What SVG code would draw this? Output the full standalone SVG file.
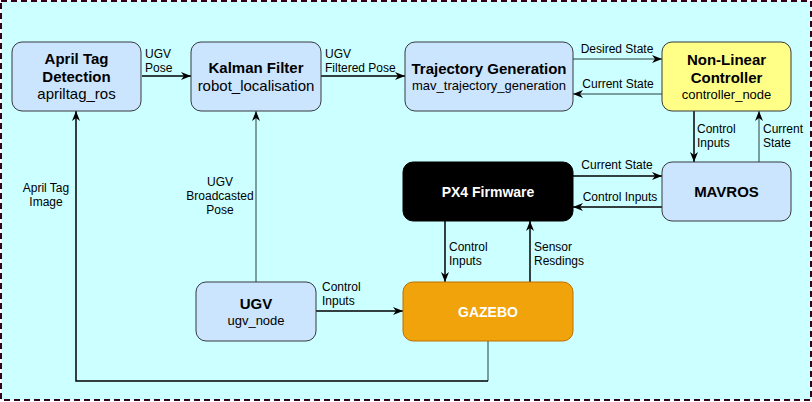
<svg xmlns="http://www.w3.org/2000/svg" width="812" height="402" viewBox="0 0 812 402">
<defs>
<style>
.nb{fill:#CCE5FF;stroke:#36393D;stroke-width:1}
.t{font-family:"Liberation Sans",Arial,sans-serif;text-anchor:middle;fill:#000}
.b{font-weight:bold;font-size:15px}
.s{font-size:15px}
.s13{font-size:13px}
.l{font-family:"Liberation Sans",Arial,sans-serif;font-size:12px;fill:#000}
.c{text-anchor:middle}
.k{fill:none;stroke:#000;stroke-width:1.5}
.g{fill:none;stroke:#5F7F7F;stroke-width:1.5}
</style>
<marker id="ak" viewBox="0 0 10 10" refX="10" refY="5" markerWidth="10" markerHeight="10" markerUnits="userSpaceOnUse" orient="auto">
<path d="M0,1 L10,5 L0,9 L3,5 z" fill="#000"/>
</marker>
<marker id="ag" viewBox="0 0 10 10" refX="10" refY="5" markerWidth="10" markerHeight="10" markerUnits="userSpaceOnUse" orient="auto">
<path d="M0,1 L10,5 L0,9 L3,5 z" fill="#000"/>
</marker>
</defs>
<rect id="background" x="1" y="1" width="810" height="399" fill="#CCFFFF" stroke="#33001A" stroke-width="2" stroke-dasharray="6 4"/>

<g id="connectors">
<line class="k" x1="142" y1="76" x2="191" y2="76" marker-end="url(#ak)"/>
<line class="k" x1="321" y1="76" x2="405" y2="76" marker-end="url(#ak)"/>
<line class="g" x1="573" y1="59" x2="662" y2="59" marker-end="url(#ag)"/>
<line class="g" x1="662" y1="94" x2="573" y2="94" marker-end="url(#ag)"/>
<line class="k" x1="694" y1="111" x2="694" y2="162" marker-end="url(#ak)"/>
<line class="g" x1="759" y1="162" x2="759" y2="111" marker-end="url(#ag)"/>
<line class="k" x1="573" y1="176" x2="662" y2="176" marker-end="url(#ak)"/>
<line class="k" x1="662" y1="207" x2="573" y2="207" marker-end="url(#ak)"/>
<line class="k" x1="445" y1="221" x2="445" y2="282" marker-end="url(#ak)"/>
<line class="k" x1="530" y1="282" x2="530" y2="221" marker-end="url(#ak)"/>
<line class="k" x1="316" y1="311" x2="403" y2="311" marker-end="url(#ak)"/>
<line class="g" x1="256" y1="282" x2="256" y2="111" marker-end="url(#ag)"/>
<polyline class="g" points="488,341 488,381"/>
<polyline class="k" points="488,381 76,381 76,111" marker-end="url(#ak)"/>

<text class="l" x="145" y="58">UGV</text>
<text class="l" x="145" y="72">Pose</text>
<text class="l" x="325" y="58">UGV</text>
<text class="l" x="325" y="72">Filtered Pose</text>
<text class="l c" x="617" y="53">Desired State</text>
<text class="l c" x="618" y="88">Current State</text>
<text class="l" x="697" y="133">Control</text>
<text class="l" x="697" y="147">Inputs</text>
<text class="l" x="763" y="133">Current</text>
<text class="l" x="763" y="147">State</text>
<text class="l c" x="617" y="169">Current State</text>
<text class="l c" x="620" y="201">Control Inputs</text>
<text class="l" x="449" y="251">Control</text>
<text class="l" x="449" y="265">Inputs</text>
<text class="l" x="534" y="251">Sensor</text>
<text class="l" x="534" y="265">Resdings</text>
<text class="l" x="322" y="291">Control</text>
<text class="l" x="322" y="305">Inputs</text>
<text class="l c" x="46" y="192">April Tag</text>
<text class="l c" x="46" y="206">Image</text>
<text class="l c" x="220" y="186">UGV</text>
<text class="l c" x="220" y="200">Broadcasted</text>
<text class="l c" x="220" y="214">Pose</text>
</g>

<g id="april-tag">
<rect class="nb" x="12" y="42" width="129" height="69" rx="10"/>
<text class="t b" x="76.5" y="64">April Tag</text>
<text class="t b" x="76.5" y="82">Detection</text>
<text class="t s" x="76.5" y="99">apriltag_ros</text>
</g>
<g id="kalman">
<rect class="nb" x="191" y="42" width="130" height="69" rx="10"/>
<text class="t b" x="256" y="73">Kalman Filter</text>
<text class="t s" x="256" y="91">robot_localisation</text>
</g>
<g id="trajectory">
<rect class="nb" x="405" y="42" width="168" height="69" rx="10"/>
<text class="t b" x="489" y="74">Trajectory Generation</text>
<text class="t s13" x="489" y="90">mav_trajectory_generation</text>
</g>
<g id="controller">
<rect x="662" y="42" width="129" height="69" rx="10" fill="#FFFF88" stroke="#36393D"/>
<text class="t b" x="726.5" y="65">Non-Linear</text>
<text class="t b" x="726.5" y="83">Controller</text>
<text class="t s13" x="726.5" y="99">controller_node</text>
</g>
<g id="mavros">
<rect class="nb" x="662" y="162" width="129" height="59" rx="10"/>
<text class="t b" x="726.5" y="197">MAVROS</text>
</g>
<g id="px4">
<rect x="403" y="162" width="170" height="59" rx="10" fill="#000" stroke="#000"/>
<text class="t b" x="488" y="197" style="fill:#fff;font-size:14px">PX4 Firmware</text>
</g>
<g id="ugv">
<rect class="nb" x="196" y="282" width="120" height="59" rx="10"/>
<text class="t b" x="256" y="309">UGV</text>
<text class="t s13" x="256" y="325">ugv_node</text>
</g>
<g id="gazebo">
<rect x="403" y="282" width="170" height="59" rx="10" fill="#F0A30A" stroke="#BD7000"/>
<text class="t b" x="488" y="317" style="fill:#fff;font-size:14px">GAZEBO</text>
</g>
</svg>
